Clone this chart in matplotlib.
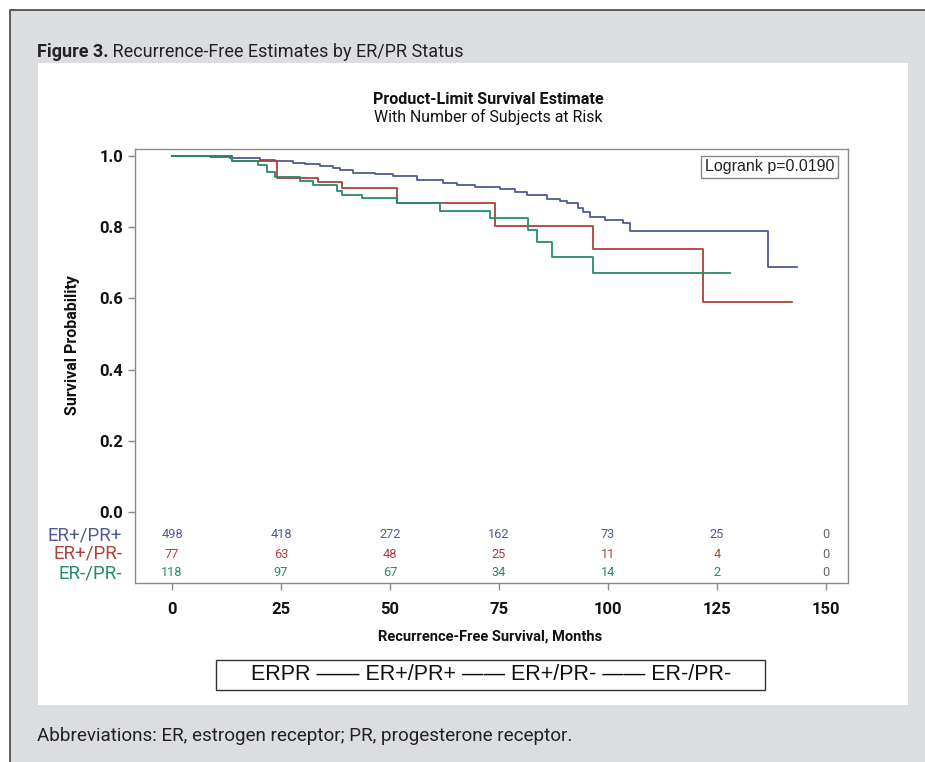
import matplotlib
matplotlib.use("Agg")
import matplotlib.pyplot as plt
from matplotlib.patches import Rectangle

# ---------------- data ----------------
groups = ["ER+/PR+", "ER+/PR-", "ER-/PR-"]

pp_months = [0, 8.7, 13.3, 20.2, 23.6, 27.8, 30.5, 33.9, 36.9, 38.5, 41.5, 46.6, 50.7,
             56.2, 62.2, 65.4, 69.5, 75.2, 78.7, 81.4, 86.0, 89.0, 90.6, 93.1, 94.3,
             95.9, 99.3, 103.4, 105.0, 136.7, 143.3]
pp_surv = [1.0, 0.997, 0.993, 0.989, 0.985, 0.981, 0.978, 0.973, 0.966, 0.961, 0.953,
           0.949, 0.945, 0.933, 0.924, 0.919, 0.914, 0.907, 0.899, 0.890, 0.879, 0.874,
           0.868, 0.854, 0.843, 0.829, 0.820, 0.812, 0.789, 0.689, 0.689]

pm_months = [0, 13.8, 24.1, 33.5, 39.0, 51.6, 74.1, 96.6, 121.8, 142.2]
pm_surv = [1.0, 0.987, 0.937, 0.926, 0.909, 0.867, 0.803, 0.738, 0.591, 0.591]

mm_months = [0, 13.8, 19.7, 21.8, 23.6, 29.4, 32.3, 37.8, 39.0, 43.6, 51.6, 61.5,
             72.9, 81.7, 83.7, 87.2, 96.6, 128.0]
mm_surv = [1.0, 0.987, 0.975, 0.956, 0.942, 0.930, 0.919, 0.903, 0.890, 0.881, 0.867,
           0.846, 0.825, 0.792, 0.759, 0.717, 0.670, 0.670]

risk_times = [0, 25, 50, 75, 100, 125, 150]
risk_pp = [498, 418, 272, 162, 73, 25, 0]
risk_pm = [77, 63, 48, 25, 11, 4, 0]
risk_mm = [118, 97, 67, 34, 14, 2, 0]

x_ticks = [0, 25, 50, 75, 100, 125, 150]
y_ticks = [0.0, 0.2, 0.4, 0.6, 0.8, 1.0]

logrank_text = "Logrank p=0.0190"
fig_title_bold = "Figure 3."
fig_title_rest = " Recurrence-Free Estimates by ER/PR Status"
plot_title = "Product-Limit Survival Estimate"
plot_subtitle = "With Number of Subjects at Risk"
x_label = "Recurrence-Free Survival, Months"
y_label = "Survival Probability"
legend_text = "ERPR \u2014\u2014 ER+/PR+ \u2014\u2014 ER+/PR- \u2014\u2014 ER-/PR-"
footnote = "Abbreviations: ER, estrogen receptor; PR, progesterone receptor."

# ---------------- style ----------------
NARROW = ["Roboto", "DejaVu Sans"]
SANS = ["Liberation Sans", "DejaVu Sans"]

c_pp = "#4f5a96"
c_pm = "#b0413a"
c_mm = "#238b6c"
colors = [c_pp, c_pm, c_mm]

W, H = 925, 762
fig = plt.figure(figsize=(W / 100, H / 100), dpi=100)
fig.patch.set_facecolor("white")

def fx(px):
    return px / W

def fy(py):
    return 1 - py / H

# gray frame (border visible on top and left only)
fig.patches.append(Rectangle((fx(10), -0.05), 1.2, fy(10) + 0.05,
                             transform=fig.transFigure, facecolor="#dcdde0",
                             edgecolor="#444444", linewidth=1.2, zorder=0))
# white panel
fig.patches.append(Rectangle((fx(38), fy(705)), fx(908) - fx(38), fy(63) - fy(705),
                             transform=fig.transFigure, facecolor="white",
                             edgecolor="none", zorder=0.5))

t1 = fig.text(fx(37), fy(52), fig_title_bold, fontsize=13, fontweight="bold",
              family=NARROW, va="center", ha="left", color="#222222")
fig.canvas.draw()
bb = t1.get_window_extent()
fig.text(bb.x1 / W, fy(52), fig_title_rest, fontsize=13, family=NARROW,
         va="center", ha="left", color="#222222")

fig.text(fx(37), fy(736), footnote, fontsize=13.6, family=NARROW, va="center",
         ha="left", color="#222222")

# axes
ax = fig.add_axes([fx(135), fy(583), fx(848) - fx(135), fy(149) - fy(583)])
ax.set_zorder(2)
x0px, x150px = 172, 826
mpp = (x150px - x0px) / 150.0
ax.set_xlim((135 - x0px) / mpp, (848 - x0px) / mpp)
y0px, y1px = 512, 156
upp = (y0px - y1px)
ax.set_ylim(-(583 - y0px) / upp, 1 + (y1px - 149) / upp)

for m, s, c in [(pp_months, pp_surv, c_pp), (pm_months, pm_surv, c_pm),
                (mm_months, mm_surv, c_mm)]:
    ax.step(m, s, where="post", color=c, linewidth=1.3)

for sp in ax.spines.values():
    sp.set_color("#8a8a8a")
    sp.set_linewidth(1.0)

ax.set_yticks(y_ticks)
ax.set_yticklabels([f"{v:.1f}" for v in y_ticks])
ax.set_xticks(x_ticks)
ax.set_xticklabels([str(v) for v in x_ticks])
ax.tick_params(axis="both", colors="#8a8a8a", labelcolor="#111111", length=5,
               width=1, labelsize=12, direction="out")
ax.tick_params(axis="x", pad=9)
for lab in ax.get_xticklabels() + ax.get_yticklabels():
    lab.set_fontweight("bold")
    lab.set_family(NARROW)

# at-risk table
row_y = [-(535 - y0px) / upp, -(554 - y0px) / upp, -(573 - y0px) / upp]
for vals, ry, c, g in zip([risk_pp, risk_pm, risk_mm], row_y, colors, groups):
    for t, v in zip(risk_times, vals):
        ax.text(t, ry, str(v), ha="center", va="center", fontsize=9.2,
                family=NARROW, color=c if v != 0 else "#666666")
    ax.text(-0.018, ry, g, transform=ax.get_yaxis_transform(), ha="right",
            va="center", fontsize=13.5, family=NARROW, color=c)

# logrank box
fig.text(fx(834), fy(167), logrank_text, ha="right", va="center", fontsize=11.5,
         family=SANS, color="#222222", zorder=5,
         bbox=dict(boxstyle="square,pad=0.22", facecolor="white",
                   edgecolor="#888888", linewidth=1))

fig.text(fx(488), fy(100), plot_title, ha="center", va="center", fontsize=11.6,
         fontweight="bold", family=NARROW, color="#111111")
fig.text(fx(488), fy(117), plot_subtitle, ha="center", va="center", fontsize=11.4,
         family=NARROW, color="#111111")

fig.text(fx(72), fy(345), y_label, ha="center", va="center", rotation=90,
         fontsize=11.5, fontweight="bold", family=NARROW, color="#111111")
fig.text(fx(490), fy(637), x_label, ha="center", va="center", fontsize=10.5,
         fontweight="bold", family=NARROW, color="#111111")

# legend box
fig.patches.append(Rectangle((fx(216), fy(690)), fx(765) - fx(216), fy(660) - fy(690),
                             transform=fig.transFigure, facecolor="white",
                             edgecolor="#333333", linewidth=1, zorder=3))
fig.text(fx(491), fy(675), legend_text, ha="center", va="center", fontsize=15.5,
         family=SANS, color="#111111", zorder=4)

fig.savefig("out.png", dpi=100)
